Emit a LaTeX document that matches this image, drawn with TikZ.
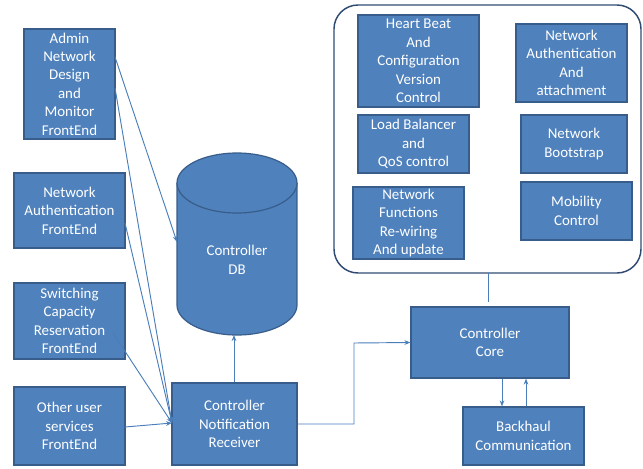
\documentclass[tikz,border=0pt]{standalone}
\usepackage{fontspec}
\setmainfont{Carlito}
\usetikzlibrary{arrows.meta}
\definecolor{blu}{HTML}{4F81BD}
\definecolor{bdr}{HTML}{385D8A}
\definecolor{lin}{HTML}{4A7EBB}
\definecolor{cont}{HTML}{2F4B73}
\begin{document}
\begin{tikzpicture}[x=0.75pt,y=-0.75pt,
  box/.style={draw=bdr,line width=0.9pt,fill=blu,text=white,align=center,inner sep=0pt,
    font=\fontsize{11.2}{13.8}\selectfont},
  bx/.style 2 args={box,minimum width=#1*0.75pt,minimum height=#2*0.75pt},
  conn/.style={draw=lin,line width=0.7pt},
  arr/.style={conn,-{Stealth[length=4.5pt,width=3.5pt]}}]
\useasboundingbox (0,0) rectangle (643,468);
% container
\draw[cont,line width=1.1pt,rounded corners=18pt] (334,5) rectangle (641,273);
% left column
\node[bx={91}{110}] (admin) at (69.5,84) {Admin\\Network\\Design\\ and\\Monitor\\FrontEnd};
\node[bx={111}{75}] (nauth) at (69.5,210.5) {Network\\Authentication\\FrontEnd};
\node[bx={111}{76}] (switch) at (69.5,321) {Switching\\Capacity\\Reservation\\FrontEnd};
\node[bx={111}{78}] (other) at (69.5,426) {Other user\\services\\FrontEnd};
% DB cylinder
\fill[blu] (177,183) rectangle (297,305);
\fill[blu] (237,305) ellipse[x radius=60,y radius=30];
\draw[bdr,line width=0.9pt] (177,183) -- (177,305) arc[start angle=180,end angle=0,x radius=60,y radius=30] -- (297,183);
\draw[bdr,line width=0.9pt,fill=blu] (237,183) ellipse[x radius=60,y radius=30];
\node[text=white,align=center,font=\fontsize{11.2}{13.8}\selectfont] (db) at (237,260) {Controller\\DB};
\coordinate (dbleft) at (177,242);
\coordinate (dbbot) at (234,335);
% receiver etc
\node[bx={125}{82}] (recv) at (234.5,424) {Controller\\Notification\\Receiver};
\node[bx={158}{71}] (core) at (490,342.5) {Controller\\Core};
\node[bx={121}{58}] (back) at (523.5,436) {Backhaul\\Communication};
% inner boxes
\node[bx={121}{92}] (hb) at (418.5,61) {Heart Beat\\And\\Configuration\\Version\\Control};
\node[bx={111}{78}] (na2) at (571.5,63) {Network\\Authentication\\And\\attachment};
\node[bx={111}{58}] (lb) at (413.5,144) {Load Balancer\\and\\QoS control};
\node[bx={106}{58}] (nb) at (574,144) {Network\\Bootstrap};
\node[bx={111}{72}] (nf) at (408.5,223) {Network\\Functions\\Re-wiring\\And update};
\node[bx={111}{58}] (mob) at (576.5,211) {Mobility\\Control};
% ports
\coordinate (rin) at (172,423);
\coordinate (a1) at (115,57);
\coordinate (a2) at (115,88);
\coordinate (n1) at (125,223);
\coordinate (s1) at (113,333);
\coordinate (o1) at (125,427);
\coordinate (cb) at (488,273);
\coordinate (ct) at (488,302);
% connectors
\draw[arr] (a1) -- (dbleft);
\draw[arr] (a2) -- (rin);
\draw[arr] (n1) -- (rin);
\draw[arr] (s1) -- (rin);
\draw[arr] (o1) -- (rin);
\draw[arr] (recv.north -| dbbot) -- (dbbot);
\draw[arr] (recv.east) -- (354,424) -- (354,343) -- (core.west);
\draw[arr] (core.south -| 502,0) -- (back.north -| 502,0);
\draw[arr] (back.north -| 526,0) -- (core.south -| 526,0);
\draw[conn] (cb) -- (ct);
\end{tikzpicture}
\end{document}
